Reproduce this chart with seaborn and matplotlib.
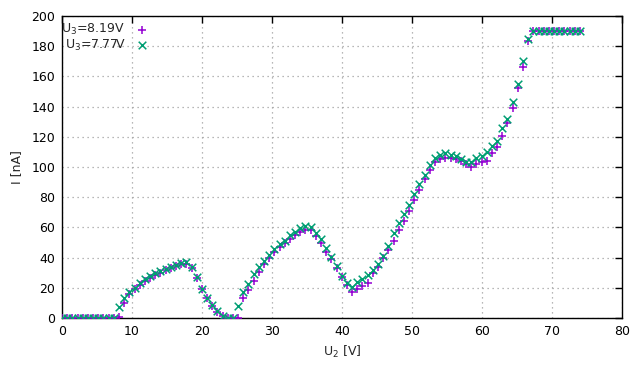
import numpy as np
import pandas as pd
import matplotlib
matplotlib.use('Agg')
import matplotlib.pyplot as plt
import seaborn as sns

# U2 values [V] (same grid for both runs)
u2 = [0.00, 0.74, 1.48, 2.22, 2.96, 3.70, 4.44, 5.18, 5.92, 6.66,
      7.40, 8.14, 8.88, 9.62, 10.36, 11.10, 11.84, 12.58, 13.32, 14.06,
      14.80, 15.54, 16.28, 17.02, 17.76, 18.50, 19.24, 19.98, 20.72, 21.46,
      22.20, 22.94, 23.68, 24.42, 25.16, 25.90, 26.64, 27.38, 28.12, 28.86,
      29.60, 30.34, 31.08, 31.82, 32.56, 33.30, 34.04, 34.78, 35.52, 36.26,
      37.00, 37.74, 38.48, 39.22, 39.96, 40.70, 41.44, 42.18, 42.92, 43.66,
      44.40, 45.14, 45.88, 46.62, 47.36, 48.10, 48.84, 49.58, 50.32, 51.06,
      51.80, 52.54, 53.28, 54.02, 54.76, 55.50, 56.24, 56.98, 57.72, 58.46,
      59.20, 59.94, 60.68, 61.42, 62.16, 62.90, 63.64, 64.38, 65.12, 65.86,
      66.60, 67.34, 68.08, 68.82, 69.56, 70.30, 71.04, 71.78, 72.52, 73.26,
      74.00]

# current I [nA] for U3 = 8.19 V
i_819 = [0, 0, 0, 0, 0, 0, 0, 0, 0, 0,
         0, 0.5, 10, 16, 19, 22, 24.5, 26.5, 28.5, 30,
         31.5, 33, 34.5, 35.5, 36, 33, 26.5, 19, 13, 8,
         4, 1.5, 0, 0, 0, 13, 18.5, 24.5, 30.5, 35.5,
         39.5, 43.5, 47, 50, 52.5, 55, 57, 58, 58, 54,
         50, 44, 39, 33, 27, 22, 17, 19, 21.5, 23,
         29.5, 34, 40, 45, 51, 58, 64, 71, 78, 85,
         92, 98, 103, 105, 106, 106, 105, 104, 102, 100,
         102, 103, 104, 109.5, 113.5, 120.5, 129, 139, 152, 166,
         183.5, 190, 190, 190, 190, 190, 190, 190, 190, 190,
         190]

# current I [nA] for U3 = 7.77 V
i_777 = [0, 0, 0, 0, 0, 0, 0, 0, 0, 0,
         0, 7, 13.5, 17, 20, 23, 25.5, 27.5, 29.5, 31,
         32.5, 34, 35, 36.5, 37, 34, 27, 19.5, 13.5, 8.5,
         4.5, 1.5, 0, 0, 8, 17, 22.5, 29, 34, 37.5,
         42, 46, 49, 51, 55, 57, 59.5, 61, 60.5, 56,
         52, 46.5, 40.5, 34.5, 28, 23.5, 20.5, 24, 25.5, 28.5,
         32, 36, 41, 48, 56, 63, 69, 75, 82, 89,
         95, 101, 106, 108, 109, 108, 107, 105, 103.5, 103,
         106, 107.5, 110, 114, 117, 125.5, 132, 143, 155, 170,
         185, 190, 190, 190, 190, 190, 190, 190, 190, 190,
         190]

df = pd.DataFrame({'U2': u2, 'I819': i_819, 'I777': i_777})

sns.set_style('white')
plt.rcParams['font.family'] = ['DejaVu Sans']

fig = plt.figure(figsize=(6.4, 3.84), dpi=100)
ax = fig.add_axes([62 / 640, 1 - 318 / 384, 560 / 640, 302 / 384])

sns.scatterplot(data=df, x='U2', y='I819', marker='+', color='#9400d3',
                s=40, linewidth=1.1, label='U$_3$=8.19V', ax=ax, zorder=3)
sns.scatterplot(data=df, x='U2', y='I777', marker='x', color='#009e73',
                s=30, linewidth=1.1, label='U$_3$=7.77V', ax=ax, zorder=3)

ax.set_xlim(0, 80)
ax.set_ylim(0, 200)
ax.set_xticks(np.arange(0, 81, 10))
ax.set_yticks(np.arange(0, 201, 20))
ax.grid(True, color='#a0a0a0', linestyle=(0, (1, 3)), linewidth=0.9)
ax.tick_params(direction='in', length=5, width=1, top=True, right=True,
               labelsize=9, colors='black', pad=5)
for sp in ax.spines.values():
    sp.set_color('black')
    sp.set_linewidth(1)

ax.set_xlabel('U$_2$ [V]', fontsize=9, labelpad=4)
ax.set_ylabel('I [nA]', fontsize=9, labelpad=6)

# key inside top left, text first then sample (gnuplot style)
leg = ax.legend(loc='upper left', bbox_to_anchor=(-0.01, 0.997),
                markerfirst=False, frameon=False,
                fontsize=9, handletextpad=0.6, borderaxespad=0.1,
                labelspacing=0.05, borderpad=0.3, handlelength=1.4)

fig.savefig('out.png', dpi=100)
